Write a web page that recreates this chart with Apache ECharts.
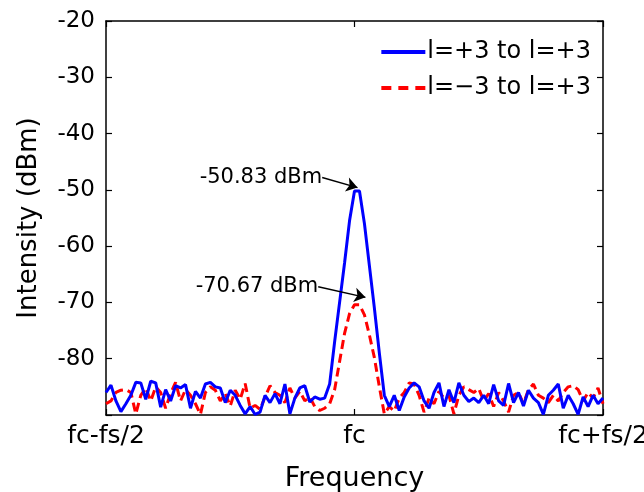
<!DOCTYPE html>
<html>
<head>
    <meta charset="utf-8">
    <title>Intensity spectrum</title>
    <script src="https://cdn.jsdelivr.net/npm/echarts@6/dist/echarts.min.js"></script>
    <style>
        html, body { margin: 0; padding: 0; background: #fff; }
        #chart { width: 644px; height: 492px; }
    </style>
</head>
<body>
    <div id="chart"></div>
    <script>
        // 频率刻度标签 (index 0 / 50 / 100)
        var xTickLabels = ['fc-fs/2', 'fc', 'fc+fs/2'];
        var seriesNames = ['l=+3 to l=+3', 'l=\u22123 to l=+3'];

        // l=+3 to l=+3 (blue, solid)
        var blueValues = [
            -86.0, -84.7, -87.5, -89.4, -88.0, -86.5, -84.2, -84.3, -87.2, -84.0,
            -84.3, -88.6, -85.5, -87.5, -84.8, -85.2, -84.6, -88.8, -85.8, -87.0,
            -84.5, -84.2, -85.0, -85.2, -87.8, -85.6, -86.5, -88.3, -89.8, -88.5,
            -89.9, -89.5, -86.5, -87.8, -86.2, -88.0, -84.5, -89.8, -87.0, -85.2,
            -84.8, -87.7, -86.8, -87.2, -87.0, -84.5, -77.0, -70.0, -63.0, -55.5,
            -50.2, -50.2, -56.0, -63.5, -71.0, -79.0, -86.5, -88.5, -86.5, -89.2,
            -86.8, -85.2, -84.3, -85.0, -87.5, -88.8, -86.0, -84.3, -88.5, -85.5,
            -87.8, -84.3, -86.5, -87.6, -87.0, -87.8, -86.5, -88.0, -84.6, -87.5,
            -88.3, -84.4, -87.8, -86.0, -88.4, -85.6, -87.0, -87.8, -89.9, -86.5,
            -85.6, -84.5, -88.8, -86.5, -88.0, -89.9, -86.8, -88.5, -86.5, -88.0,
            -87.0
        ];

        // l=-3 to l=+3 (red, dashed)
        var redValues = [
            -88.0, -87.5, -86.0, -85.6, -85.5, -86.0, -89.8, -86.5, -85.2, -87.5,
            -85.0, -86.0, -88.8, -86.2, -84.2, -87.5, -85.5, -86.5, -88.0, -89.9,
            -86.0, -85.0, -85.6, -87.5, -86.2, -88.4, -85.6, -87.2, -84.4, -88.8,
            -88.3, -89.0, -86.8, -84.8, -86.0, -86.5, -87.8, -85.2, -87.0, -85.8,
            -87.5, -86.8, -88.5, -89.2, -88.8, -88.0, -85.5, -80.5, -75.5, -72.0,
            -70.4, -70.4, -72.2, -75.8, -79.8, -85.0, -89.8, -88.5, -89.3, -87.0,
            -86.0, -84.3, -84.5, -86.5, -89.5, -87.0, -88.0, -85.8, -87.0, -86.5,
            -89.8, -86.5, -85.0, -85.5, -86.0, -85.3, -87.5, -86.2, -88.5, -86.0,
            -87.5, -89.5, -86.5, -86.0, -88.0, -85.5, -84.5, -86.5, -87.0, -87.8,
            -86.5, -87.5, -86.0, -85.0, -84.8, -85.5, -87.5, -86.0, -87.0, -85.2,
            -88.0
        ];

        // 峰值标注: text, arrow start, arrow end (data coords)
        var annTexts = ['-50.83 dBm', '-70.67 dBm'];
        var annFrom = [[43.5, -47.8], [42.7, -67.2]];
        var annTo = [[50.6, -49.6], [52.2, -69.1]];

        function toPairs(vals) {
            var out = [];
            for (var i = 0; i < vals.length; i++) out.push([i, vals[i]]);
            return out;
        }

        var FONT = 'DejaVu Sans, sans-serif';

        var arrowLines = [], arrowTexts = [];
        for (var k = 0; k < annTexts.length; k++) {
            arrowLines.push([{ coord: annFrom[k] }, { coord: annTo[k] }]);
            arrowTexts.push({
                coord: annFrom[k],
                label: { formatter: annTexts[k] }
            });
        }

        var axisCommon = {
            axisLine: { show: true, onZero: false, lineStyle: { color: '#000', width: 1.5 } },
            axisTick: { show: true, inside: true, length: 6, lineStyle: { color: '#000', width: 1.2 } },
            splitLine: { show: false }
        };

        var option = {
            animation: false,
            backgroundColor: '#fff',
            grid: { left: 106, right: 41, top: 21, bottom: 77, outerBoundsMode: 'none', containLabel: false },
            legend: {
                right: 48,
                top: 35,
                orient: 'vertical',
                itemWidth: 44,
                itemHeight: 4,
                itemGap: 12,
                textStyle: { fontFamily: FONT, fontSize: 24, color: '#000', padding: [0, 0, 0, -3] },
                data: [
                    { name: seriesNames[0], icon: 'path://M0,0H44V4H0Z' },
                    { name: seriesNames[1], icon: 'path://M0,0H10V4H0Z M17,0H27V4H17Z M34,0H44V4H34Z' }
                ]
            },
            xAxis: [
                Object.assign({
                    type: 'value', min: 0, max: 100, interval: 50,
                    name: 'Frequency', nameLocation: 'middle', nameGap: 50,
                    nameTextStyle: { fontFamily: FONT, fontSize: 27, color: '#000' },
                    axisLabel: {
                        fontFamily: FONT, fontSize: 25, color: '#000', margin: 9,
                        formatter: function (v) { return xTickLabels[Math.round(v / 50)]; }
                    }
                }, axisCommon),
                Object.assign({
                    type: 'value', min: 0, max: 100, interval: 50, position: 'top',
                    axisLabel: { show: false }
                }, axisCommon)
            ],
            yAxis: [
                Object.assign({
                    type: 'value', min: -90, max: -20, interval: 10,
                    name: 'Intensity (dBm)', nameLocation: 'middle', nameGap: 64,
                    nameTextStyle: { fontFamily: FONT, fontSize: 26, color: '#000' },
                    axisLabel: {
                        fontFamily: FONT, fontSize: 23, color: '#000', margin: 11,
                        formatter: function (v) { return v === -90 ? '' : String(v); }
                    }
                }, axisCommon),
                Object.assign({
                    type: 'value', min: -90, max: -20, interval: 10, position: 'right',
                    axisLabel: { show: false }
                }, axisCommon)
            ],
            series: [
                {
                    name: seriesNames[0],
                    type: 'line',
                    data: toPairs(blueValues),
                    symbol: 'none',
                    z: 3,
                    lineStyle: { color: '#0000ff', width: 3 },
                    itemStyle: { color: '#0000ff' },
                    markLine: {
                        silent: true,
                        symbol: ['none', 'arrow'],
                        symbolSize: 11,
                        lineStyle: { color: '#000', width: 1.5, type: 'solid' },
                        itemStyle: { color: '#000' },
                        label: { show: false },
                        data: arrowLines
                    },
                    markPoint: {
                        silent: true,
                        symbol: 'circle',
                        symbolSize: 0,
                        label: {
                            show: true, position: 'left', distance: 0,
                            fontFamily: FONT, fontSize: 21, color: '#000'
                        },
                        data: arrowTexts
                    }
                },
                {
                    name: seriesNames[1],
                    type: 'line',
                    data: toPairs(redValues),
                    symbol: 'none',
                    z: 2,
                    lineStyle: { color: '#ff0000', width: 3, type: [9, 5] },
                    itemStyle: { color: '#ff0000' }
                }
            ]
        };

        var chart = echarts.init(document.getElementById('chart'));
        chart.setOption(option);
    </script>
</body>
</html>
